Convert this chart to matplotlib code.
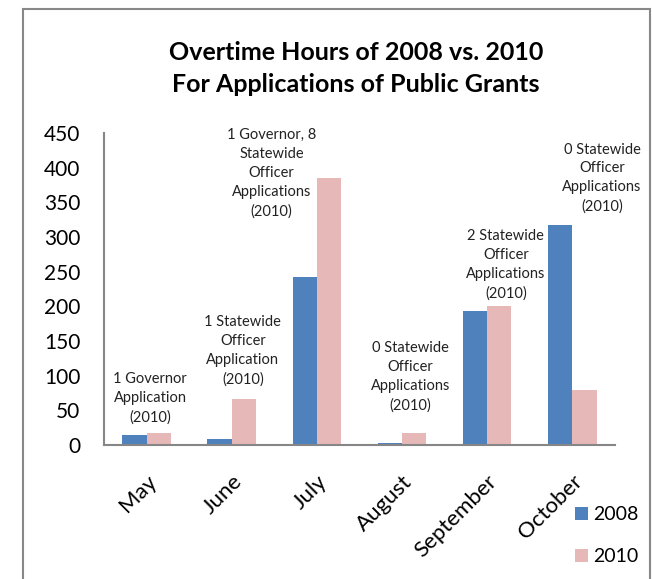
import matplotlib
matplotlib.use("Agg")
import matplotlib.pyplot as plt
import matplotlib.transforms as mtransforms
import numpy as np
from matplotlib.patches import Rectangle

plt.rcParams['font.family'] = ['Lato', 'DejaVu Sans']

months = ["May", "June", "July", "August", "September", "October"]
hours_2008 = [15, 8, 243, 3, 193, 317]
hours_2010 = [17, 66, 385, 17, 200, 79]
notes = ["1 Governor\nApplication\n(2010)",
         "1 Statewide\nOfficer\nApplication\n(2010)",
         "1 Governor, 8\nStatewide\nOfficer\nApplications\n(2010)",
         "0 Statewide\nOfficer\nApplications\n(2010)",
         "2 Statewide\nOfficer\nApplications\n(2010)",
         "0 Statewide\nOfficer\nApplications\n(2010)"]
# where the notes sit (x offset from category, y in hours)
note_dx = [0.04, 0.13, -0.53, 0.10, 0.22, 0.35]
note_y = [67, 136, 392, 98, 260, 385]

fig = plt.figure(figsize=(6.52, 5.79), dpi=100)
ax = fig.add_axes([0.1595, 0.2314, 0.7835, 0.5386])

x = np.arange(len(months))
w = 0.285
ax.bar(x - w/2, hours_2008, w, color='#4F81BD', label='2008')
ax.bar(x + w/2, hours_2010, w, color='#E6B9B8', label='2010')

for i in range(len(months)):
    ax.text(x[i] + note_dx[i], note_y[i], notes[i], ha='center', va='center',
            fontsize=10.5, linespacing=1.45, color='#222222')

ax.set_xlim(-0.5, 5.5)
ax.set_ylim(0, 450)
ax.set_yticks(range(0, 451, 50))
ax.set_xticks(x)
ax.set_xticklabels(months, rotation=45, ha='right', rotation_mode='anchor', fontsize=16)
shift = mtransforms.ScaledTranslation(0.08, 0, fig.dpi_scale_trans)
for lab in ax.get_xticklabels():
    lab.set_transform(lab.get_transform() + shift)
ax.tick_params(axis='y', length=0, pad=17, labelsize=15)
ax.tick_params(axis='x', length=0, pad=19)
for s in ['top', 'right']:
    ax.spines[s].set_visible(False)
for s in ['left', 'bottom']:
    ax.spines[s].set_color('#868686')
    ax.spines[s].set_linewidth(1.5)

fig.text(0.546, 0.882, "Overtime Hours of 2008 vs. 2010\nFor Applications of Public Grants",
         ha='center', va='center', fontsize=18, fontweight='bold', linespacing=1.45)

fig.legend(loc='upper left', bbox_to_anchor=(575/652, 1 - 506/579), frameon=False, fontsize=14,
           handlelength=0.65, handleheight=0.65, handletextpad=0.3, labelspacing=1.3,
           borderpad=0, borderaxespad=0)

fig.patches.append(Rectangle((23/652, -0.1), 627/652, 1.1 - 9/579, transform=fig.transFigure,
                             fill=False, edgecolor='#888888', linewidth=1.5, clip_on=False))

fig.savefig('out.png', dpi=100)
